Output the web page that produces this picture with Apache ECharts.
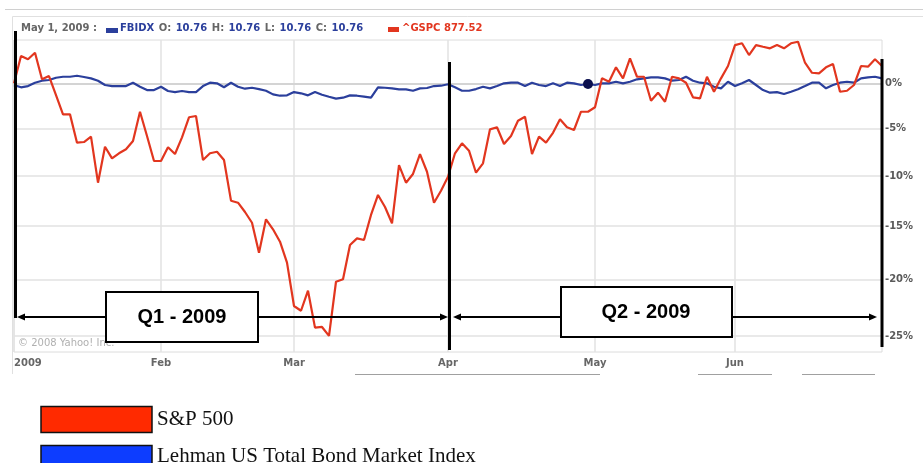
<!DOCTYPE html>
<html>
<head>
<meta charset="utf-8">
<script src="https://cdn.jsdelivr.net/npm/echarts@6/dist/echarts.min.js"></script>
<style>
  html, body { margin: 0; padding: 0; background: #fff; }
  #chart { width: 923px; height: 463px; }
</style>
</head>
<body>
<div id="chart"></div>
<script>
// % change since 31 Dec 2008, one value per trading day
var sp500 = [0, 3.16, 2.77, 3.54, 0.46, 0.83, -1.32, -3.47, -3.47, -6.53,
    -6.46, -5.89, -10.69, -6.96, -8.18, -7.65, -7.23, -6.35, -3.18, -5.82,
    -8.46, -8.46, -7.02, -7.73, -5.96, -3.79, -3.65, -8.36, -7.65, -7.49,
    -8.36, -12.50, -12.70, -13.62, -14.67, -17.53, -14.33, -15.30, -16.49, -18.46,
    -22.38, -22.80, -21.02, -24.27, -24.21, -24.98, -20.21, -19.99, -16.80, -16.17,
    -16.33, -13.91, -11.93, -13.13, -14.72, -8.88, -10.69, -9.80, -7.73, -9.57,
    -12.70, -11.50, -10.08, -7.65, -6.60, -7.38, -9.67, -8.70, -5.10, -4.88,
    -6.67, -5.82, -4.17, -3.73, -7.73, -5.89, -6.53, -5.47, -4.01, -4.88,
    -5.17, -3.18, -3.18, -2.69, 0.57, 0.18, 1.84, 0.57, 2.89, 0.75,
    0.75, -1.96, -1.06, -2.07, 0.75, 0.57, 0.07, -1.58, -1.69, 0.75,
    -0.95, 0.57, 1.99, 4.45, 4.66, 3.27, 4.45, 4.25, 4.06, 4.45,
    4.06, 4.66, 4.85, 2.37, 1.21, 1.14, 1.84, 2.22, -0.95, -0.84,
    -0.19, 1.99, 1.91, 2.77, 1.99];

var bond = [-0.2, -0.45, -0.31, 0.07, 0.30, 0.38, 0.64, 0.75, 0.75, 0.87,
    0.72, 0.57, 0.30, -0.19, -0.31, -0.31, -0.31, 0.07, -0.39, -0.76,
    -0.76, -0.39, -0.87, -0.99, -0.87, -0.99, -0.99, -0.31, 0.07, 0,
    -0.45, 0.07, -0.39, -0.61, -0.50, -0.65, -0.84, -1.25, -1.40, -1.36,
    -0.99, -1.13, -1.36, -0.99, -1.29, -1.51, -1.72, -1.62, -1.36, -1.40,
    -1.51, -1.62, -0.45, -0.50, -0.57, -0.68, -0.68, -0.84, -0.57, -0.53,
    -0.31, -0.27, -0.11, -0.45, -0.84, -0.84, -0.65, -0.39, -0.57, -0.31,
    0, 0.07, 0.07, -0.31, 0.07, -0.19, -0.31, 0, -0.31, 0.07,
    0, -0.19, -0.08, -0.19, 0, 0, 0.18, 0, 0.18, 0.46,
    0.57, 0.68, 0.68, 0.57, 0.30, 0.38, 0.75, 0.30, 0.07, 0,
    -0.39, -0.57, 0.18, -0.31, 0, 0.38, -0.19, -0.76, -1.06, -0.99,
    -1.21, -0.95, -0.68, -0.31, 0.07, 0.07, -0.57, -0.19, 0.07, 0.18,
    0.07, 0.57, 0.68, 0.75, 0.57];

var monthLabels = ['2009', 'Feb', 'Mar', 'Apr', 'May', 'Jun'];
var yTickPct = [0, -5, -10, -15, -20, -25];
var holidays = ['2009-01-01', '2009-01-19', '2009-02-16', '2009-04-10', '2009-05-25'];
var markerDay = '2009-04-30';

// trading days: base day + NYSE sessions of H1 2009
var days = ['2008-12-31'];
for (var t = Date.UTC(2009, 0, 1); t <= Date.UTC(2009, 5, 30); t += 86400000) {
    var d = new Date(t);
    var s = d.toISOString().slice(0, 10);
    if (d.getUTCDay() == 0 || d.getUTCDay() == 6 || holidays.indexOf(s) >= 0) continue;
    days.push(s);
}

// label on the first session of every month
var labelAt = {};
var m = 0;
for (var i = 2; i < days.length; i++) {
    if (days[i].slice(5, 7) != days[i - 1].slice(5, 7)) {
        m++;
        labelAt[i] = monthLabels[m];
    }
}
labelAt[0] = monthLabels[0];

// log scale, like the yahoo chart
function lg(p) { return Math.log(1 + p / 100); }
var yTicks = yTickPct.map(lg);

var gray = '#666';
var axisFont = 'DejaVu Sans';

var option = {
    backgroundColor: '#fff',
    animation: false,
    grid: {left: 14, top: 40, width: 868, height: 312, show: true, borderColor: '#dcdcdc', borderWidth: 1},
    xAxis: {
        type: 'category',
        data: days,
        boundaryGap: false,
        axisLine: {lineStyle: {color: '#d4d4d4', width: 2}},
        axisTick: {show: false},
        axisLabel: {
            interval: function (idx) { return labelAt[idx] !== undefined; },
            formatter: function (v, idx) { return labelAt[idx]; },
            alignMinLabel: 'left',
            color: gray, fontWeight: 'bold', fontSize: 10, fontFamily: axisFont, margin: 6
        },
        splitLine: {
            show: true,
            interval: function (idx) { return labelAt[idx] !== undefined; },
            lineStyle: {color: '#e2e2e2', width: 1.5}
        }
    },
    yAxis: {
        type: 'value',
        position: 'right',
        min: -0.3057,
        max: 0.0493,
        axisLine: {show: false},
        axisTick: {show: false, customValues: yTicks},
        axisLabel: {
            customValues: yTicks,
            formatter: function (v) { return Math.round((Math.exp(v) - 1) * 100) + '%'; },
            color: '#5a5a5a', fontWeight: 'bold', fontSize: 10, fontFamily: axisFont, margin: 3
        },
        splitLine: {show: true, lineStyle: {color: '#e2e2e2', width: 1.5}}
    },
    series: [
        {
            name: 'Lehman US Total Bond Market Index',
            type: 'line',
            data: bond.map(lg),
            showSymbol: false,
            lineStyle: {color: '#2b3f9c', width: 2.2},
            z: 2,
            markPoint: {
                symbol: 'circle',
                symbolSize: 10,
                label: {show: false},
                itemStyle: {color: '#0b0f4e'},
                data: [{coord: [markerDay, lg(bond[days.indexOf(markerDay)])]}],
                z: 5
            }
        },
        {
            name: 'S&P 500',
            type: 'line',
            data: sp500.map(lg),
            showSymbol: false,
            lineStyle: {color: '#e2361f', width: 2.2},
            z: 3
        }
    ],
    graphic: [
        // yahoo frame bits
        {type: 'line', shape: {x1: 5, y1: 9.5, x2: 923, y2: 9.5}, style: {stroke: '#d0d0d0', lineWidth: 1}},
        {type: 'line', shape: {x1: 12.5, y1: 16.5, x2: 923, y2: 16.5}, style: {stroke: '#e0e0e0', lineWidth: 1}},
        {type: 'line', shape: {x1: 12.5, y1: 16.5, x2: 12.5, y2: 374}, style: {stroke: '#e0e0e0', lineWidth: 1}},
        {type: 'line', shape: {x1: 355, y1: 374.5, x2: 600, y2: 374.5}, style: {stroke: '#a0a0a0', lineWidth: 1}},
        {type: 'line', shape: {x1: 698, y1: 374.5, x2: 772, y2: 374.5}, style: {stroke: '#a0a0a0', lineWidth: 1}},
        {type: 'line', shape: {x1: 802, y1: 374.5, x2: 875, y2: 374.5}, style: {stroke: '#a0a0a0', lineWidth: 1}},

        // header
        {type: 'text', left: 21, top: 23, style: {text: 'May 1, 2009 :', fill: gray, font: 'bold 10px DejaVu Sans'}},
        {type: 'rect', shape: {x: 106, y: 28, width: 12, height: 5}, style: {fill: '#2b3f9c'}},
        {
            type: 'text', left: 120, top: 23,
            style: {
                text: '{b|FBIDX} {g|O:} {b|10.76} {g|H:} {b|10.76} {g|L:} {b|10.76} {g|C:} {b|10.76}',
                font: 'bold 10px DejaVu Sans',
                rich: {
                    b: {fill: '#2b3f9c', font: 'bold 10px DejaVu Sans'},
                    g: {fill: gray, font: 'bold 10px DejaVu Sans', padding: [0, 1, 0, 1]}
                }
            }
        },
        {type: 'rect', shape: {x: 388, y: 27, width: 11, height: 5}, style: {fill: '#e2361f'}},
        {type: 'text', left: 402, top: 23, style: {text: '^GSPC 877.52', fill: '#e2361f', font: 'bold 10px DejaVu Sans'}},

        {type: 'text', left: 18, top: 338, z: 50, style: {text: '\u00a9 2008 Yahoo! Inc.', fill: '#b0b0b0', font: '10px DejaVu Sans'}},

        // quarter annotations
        {type: 'line', z: 100, shape: {x1: 15.5, y1: 31, x2: 15.5, y2: 318}, style: {stroke: '#000', lineWidth: 3}},
        {type: 'line', z: 100, shape: {x1: 449.5, y1: 62, x2: 449.5, y2: 350}, style: {stroke: '#000', lineWidth: 3}},
        {type: 'line', z: 100, shape: {x1: 882, y1: 59, x2: 882, y2: 347}, style: {stroke: '#000', lineWidth: 3}},
        {type: 'line', z: 100, shape: {x1: 20, y1: 317, x2: 444, y2: 317}, style: {stroke: '#000', lineWidth: 2}},
        {type: 'polygon', z: 100, shape: {points: [[17, 317], [25, 313.5], [25, 320.5]]}, style: {fill: '#000'}},
        {type: 'polygon', z: 100, shape: {points: [[448, 317], [440, 313.5], [440, 320.5]]}, style: {fill: '#000'}},
        {type: 'line', z: 100, shape: {x1: 457, y1: 317, x2: 873, y2: 317}, style: {stroke: '#000', lineWidth: 2}},
        {type: 'polygon', z: 100, shape: {points: [[453, 317], [461, 313.5], [461, 320.5]]}, style: {fill: '#000'}},
        {type: 'polygon', z: 100, shape: {points: [[877, 317], [869, 313.5], [869, 320.5]]}, style: {fill: '#000'}},
        {type: 'rect', z: 101, shape: {x: 106, y: 292, width: 152, height: 50}, style: {fill: '#fff', stroke: '#000', lineWidth: 2}},
        {type: 'text', z: 102, x: 182, y: 317, style: {text: 'Q1 - 2009', font: 'bold 20px Liberation Sans', fill: '#000', align: 'center', verticalAlign: 'middle'}},
        {type: 'rect', z: 101, shape: {x: 561, y: 287, width: 171, height: 50}, style: {fill: '#fff', stroke: '#000', lineWidth: 2}},
        {type: 'text', z: 102, x: 646, y: 312, style: {text: 'Q2 - 2009', font: 'bold 20px Liberation Sans', fill: '#000', align: 'center', verticalAlign: 'middle'}},

        // legend
        {type: 'rect', shape: {x: 41, y: 406.5, width: 111, height: 26}, style: {fill: '#ff2a00', stroke: '#111', lineWidth: 1.5}},
        {type: 'text', x: 157, y: 419, style: {text: 'S&P 500', font: '21px Liberation Serif', fill: '#111', verticalAlign: 'middle'}},
        {type: 'rect', shape: {x: 41, y: 445.5, width: 111, height: 30}, style: {fill: '#0d3dff', stroke: '#111', lineWidth: 1.5}},
        {type: 'text', x: 157, y: 456, style: {text: 'Lehman US Total Bond Market Index', font: '21px Liberation Serif', fill: '#111', verticalAlign: 'middle'}}
    ]
};

var chart = echarts.init(document.getElementById('chart'));
chart.setOption(option);
</script>
</body>
</html>
